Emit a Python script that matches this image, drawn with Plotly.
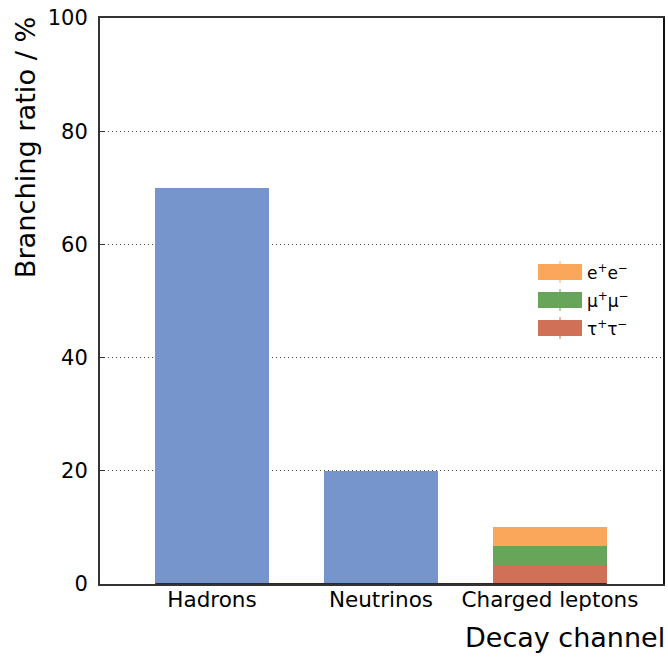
import plotly.graph_objects as go

# Z boson decay channels (branching ratios in %)
categories = ["Hadrons", "Neutrinos", "Charged leptons"]
main_values = [69.9, 20.0, None]

lepton_names = ["τ<sup>+</sup>τ<sup>−</sup>", "μ<sup>+</sup>μ<sup>−</sup>", "e<sup>+</sup>e<sup>−</sup>"]
lepton_values = [3.37, 3.37, 3.36]
lepton_colors = ["#d07057", "#66a55a", "#fba75b"]

y_ticks = [0, 20, 40, 60, 80, 100]

BLUE = "#7595cc"
BAR_W = 0.67
FONT = "DejaVu Sans"

fig = go.Figure()

fig.add_trace(go.Bar(x=categories[:2], y=main_values[:2], width=BAR_W,
                     marker=dict(color=BLUE, line=dict(width=0)),
                     showlegend=False))

for name, val, col in zip(lepton_names, lepton_values, lepton_colors):
    fig.add_trace(go.Bar(x=[categories[2]], y=[val], width=BAR_W, name=name,
                         marker=dict(color=col, line=dict(width=0)),
                         showlegend=False))

fig.update_layout(
    barmode="stack",
    width=668, height=660,
    margin=dict(l=100, r=5, t=18, b=76),
    plot_bgcolor="white", paper_bgcolor="white",
    font=dict(family=FONT, size=20, color="black"),
    xaxis=dict(range=[-0.663, 2.669], showline=True, linecolor="#333", linewidth=2,
               mirror=True, ticks="", tickfont=dict(size=21.5), showgrid=False,
               ticklabelstandoff=-5),
    yaxis=dict(range=[0, 100], tickvals=y_ticks, showline=True, linecolor="#333",
               linewidth=2, mirror=False, ticks="inside", ticklen=5, tickwidth=1,
               tickcolor="#333", showgrid=True, gridcolor="#444",
               griddash="1px,3px", gridwidth=1, zeroline=False,
               tickfont=dict(size=21), ticklabelstandoff=6),
    yaxis2=dict(overlaying="y", range=[0, 100], showline=True, linecolor="#111",
                linewidth=2, side="right", showticklabels=False, showgrid=False,
                zeroline=False, ticks=""),
)

# right-hand frame edge (darker than the left spine)
fig.add_trace(go.Scatter(x=[None], y=[None], yaxis="y2", showlegend=False))

# baseline beneath the bars
fig.add_shape(type="line", xref="x", yref="y", x0=-BAR_W / 2, x1=len(categories) - 1 + BAR_W / 2,
              y0=0, y1=0, line=dict(color="#4a1d17", width=2))

# axis titles
fig.add_annotation(text="Branching ratio / %", xref="paper", yref="paper",
                   x=-0.131, y=1.0 + 4 / 566, xanchor="center", yanchor="top",
                   textangle=-90, showarrow=False, font=dict(size=27.2, family=FONT))
fig.add_annotation(text="Decay channel", xref="paper", yref="paper",
                   x=1.0, y=-0.064, xanchor="right", yanchor="top", xshift=4,
                   showarrow=False, font=dict(size=27, family=FONT))

# legend drawn as wide swatches with a centre tick
leg_x0, leg_x1 = (538 - 100) / 563, (582 - 100) / 563
for i, (name, col) in enumerate(zip(lepton_names[::-1], lepton_colors[::-1])):
    yc = 1 - (272 + 28 * i - 18) / 566
    h = 16 / 566
    fig.add_shape(type="rect", xref="paper", yref="paper", x0=leg_x0, x1=leg_x1,
                  y0=yc - h / 2, y1=yc + h / 2, fillcolor=col, line=dict(width=0))
    xm = (leg_x0 + leg_x1) / 2
    fig.add_shape(type="line", xref="paper", yref="paper", x0=xm, x1=xm,
                  y0=yc - 11 / 566, y1=yc + 11 / 566, line=dict(color=col, width=1))
    fig.add_annotation(text=name, xref="paper", yref="paper", x=(585 - 100) / 563, y=yc,
                       xanchor="left", yanchor="middle", showarrow=False,
                       font=dict(size=17, family=FONT))

fig.write_html("out.html")
